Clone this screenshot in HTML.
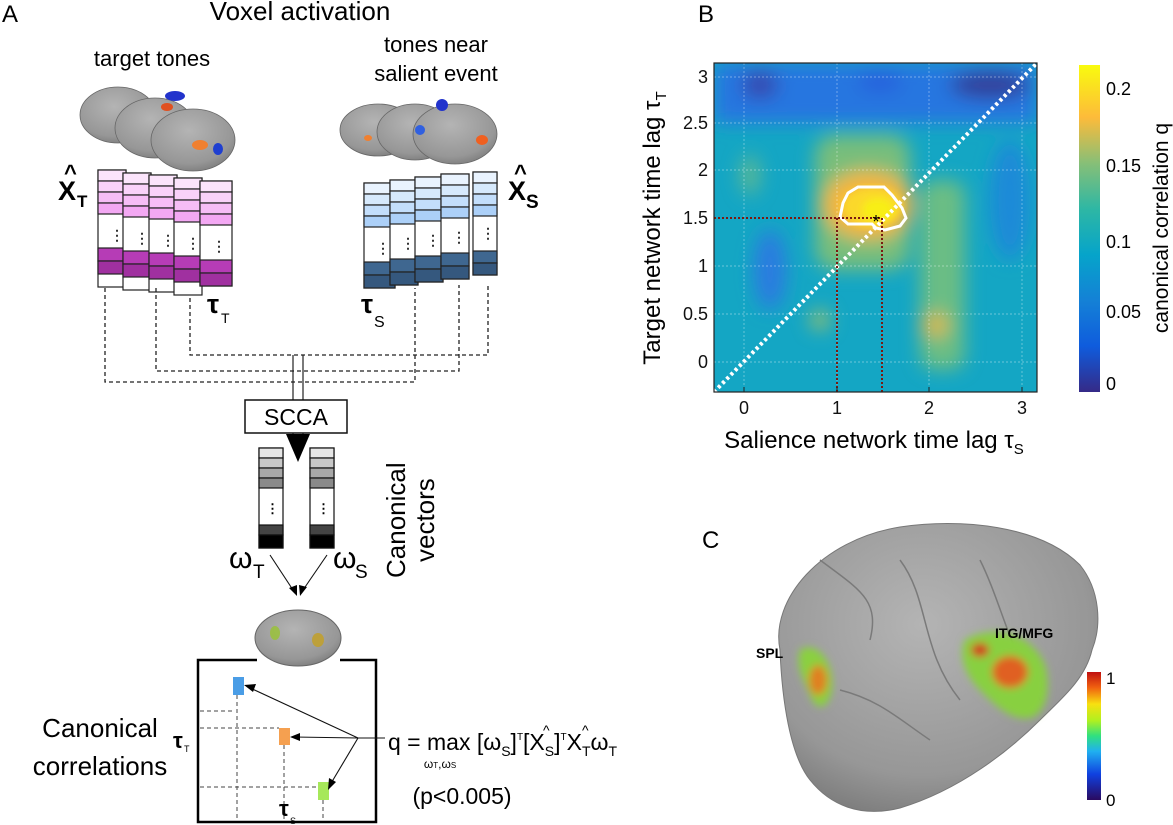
<!DOCTYPE html>
<html><head><meta charset="utf-8"><style>
html,body{margin:0;padding:0;background:#fff;}
svg{display:block;font-family:"Liberation Sans",sans-serif;}
</style></head><body>
<svg width="1173" height="825" viewBox="0 0 1173 825" xmlns="http://www.w3.org/2000/svg">
<defs>
<filter id="bl" x="-20%" y="-20%" width="140%" height="140%"><feGaussianBlur stdDeviation="9"/></filter>
<filter id="bl2"><feGaussianBlur stdDeviation="4"/></filter>
<linearGradient id="parula" x1="0" y1="1" x2="0" y2="0">
<stop offset="0" stop-color="#352a87"/><stop offset="0.14" stop-color="#0f5cdd"/><stop offset="0.28" stop-color="#1481d6"/><stop offset="0.42" stop-color="#06a4ca"/><stop offset="0.56" stop-color="#2eb7a4"/><stop offset="0.7" stop-color="#87bf77"/><stop offset="0.84" stop-color="#fdbb3a"/><stop offset="1" stop-color="#f9fb0e"/>
</linearGradient>
<linearGradient id="jet" x1="0" y1="1" x2="0" y2="0">
<stop offset="0" stop-color="#2a0a60"/><stop offset="0.2" stop-color="#1040e0"/><stop offset="0.38" stop-color="#20b0f0"/><stop offset="0.5" stop-color="#30e080"/><stop offset="0.62" stop-color="#b0f020"/><stop offset="0.75" stop-color="#f8e010"/><stop offset="0.88" stop-color="#f06010"/><stop offset="1" stop-color="#c01010"/>
</linearGradient>
<radialGradient id="brain" cx="0.45" cy="0.35" r="0.75"><stop offset="0" stop-color="#b4b4b4"/><stop offset="0.7" stop-color="#979797"/><stop offset="1" stop-color="#727272"/></radialGradient>
<clipPath id="hm"><rect x="714" y="63" width="323" height="329"/></clipPath>
</defs>

<text x="2" y="22" font-size="24">A</text>
<text x="698" y="22" font-size="24">B</text>
<text x="702" y="548" font-size="24">C</text>

<text x="300" y="20" font-size="26" text-anchor="middle">Voxel activation</text>
<text x="152" y="66" font-size="22" text-anchor="middle">target tones</text>
<text x="436" y="52" font-size="22" text-anchor="middle">tones near</text>
<text x="436" y="81" font-size="22" text-anchor="middle">salient event</text>

<g fill="url(#brain)" stroke="#666" stroke-width="0.8">
<ellipse cx="118" cy="115" rx="38" ry="28"/>
<ellipse cx="155" cy="128" rx="40" ry="30"/>
<ellipse cx="193" cy="140" rx="42" ry="31"/>
<ellipse cx="378" cy="130" rx="38" ry="26"/>
<ellipse cx="415" cy="132" rx="38" ry="28"/>
<ellipse cx="455" cy="134" rx="42" ry="30"/>
</g>
<g>
<ellipse cx="175" cy="96" rx="10" ry="5" fill="#2233cc"/>
<ellipse cx="167" cy="107" rx="6" ry="4" fill="#e05020"/>
<ellipse cx="200" cy="145" rx="8" ry="5" fill="#f08030"/>
<ellipse cx="218" cy="149" rx="5" ry="6" fill="#1f3fd0"/>
<ellipse cx="442" cy="105" rx="6" ry="6" fill="#2233cc"/>
<ellipse cx="420" cy="130" rx="5" ry="5" fill="#3060e0"/>
<ellipse cx="482" cy="140" rx="6" ry="5" fill="#f06020"/>
<ellipse cx="368" cy="138" rx="4" ry="3" fill="#f08030"/>
</g>

<g font-size="14" font-weight="bold" fill="#333">
<g stroke="#222" stroke-width="1.2">
<rect x="98" y="170" width="28" height="117" fill="#fff"/>
<rect x="98" y="170" width="28" height="11" fill="#fbe4fb"/><rect x="98" y="181" width="28" height="11" fill="#f9d2f9"/><rect x="98" y="192" width="28" height="11" fill="#f6bdf6"/><rect x="98" y="203" width="28" height="11" fill="#f3a8f3"/>
<rect x="98" y="248" width="28" height="13" fill="#b63cb6"/><rect x="98" y="261" width="28" height="13" fill="#a030a0"/>
<rect x="123" y="173" width="28" height="117" fill="#fff"/>
<rect x="123" y="173" width="28" height="11" fill="#fbe4fb"/><rect x="123" y="184" width="28" height="11" fill="#f9d2f9"/><rect x="123" y="195" width="28" height="11" fill="#f6bdf6"/><rect x="123" y="206" width="28" height="11" fill="#f3a8f3"/>
<rect x="123" y="251" width="28" height="13" fill="#b63cb6"/><rect x="123" y="264" width="28" height="13" fill="#a030a0"/>
<rect x="149" y="175" width="28" height="117" fill="#fff"/>
<rect x="149" y="175" width="28" height="11" fill="#fbe4fb"/><rect x="149" y="186" width="28" height="11" fill="#f9d2f9"/><rect x="149" y="197" width="28" height="11" fill="#f6bdf6"/><rect x="149" y="208" width="28" height="11" fill="#f3a8f3"/>
<rect x="149" y="253" width="28" height="13" fill="#b63cb6"/><rect x="149" y="266" width="28" height="13" fill="#a030a0"/>
<rect x="174" y="178" width="28" height="117" fill="#fff"/>
<rect x="174" y="178" width="28" height="11" fill="#fbe4fb"/><rect x="174" y="189" width="28" height="11" fill="#f9d2f9"/><rect x="174" y="200" width="28" height="11" fill="#f6bdf6"/><rect x="174" y="211" width="28" height="11" fill="#f3a8f3"/>
<rect x="174" y="256" width="28" height="13" fill="#b63cb6"/><rect x="174" y="269" width="28" height="13" fill="#a030a0"/>
<rect x="200" y="181" width="32" height="105" fill="#fff"/>
<rect x="200" y="181" width="32" height="11" fill="#fbe4fb"/><rect x="200" y="192" width="32" height="11" fill="#f9d2f9"/><rect x="200" y="203" width="32" height="11" fill="#f6bdf6"/><rect x="200" y="214" width="32" height="11" fill="#f3a8f3"/>
<rect x="200" y="260" width="32" height="13" fill="#b63cb6"/><rect x="200" y="273" width="32" height="13" fill="#a030a0"/>
<rect x="364" y="183" width="31" height="105" fill="#fff"/>
<rect x="364" y="183" width="31" height="11" fill="#e9f3fe"/><rect x="364" y="194" width="31" height="11" fill="#d6e9fc"/><rect x="364" y="205" width="31" height="11" fill="#c3defb"/><rect x="364" y="216" width="31" height="11" fill="#acd0f8"/>
<rect x="364" y="262" width="31" height="13" fill="#3f6790"/><rect x="364" y="275" width="31" height="13" fill="#35587e"/>
<rect x="390" y="180" width="28" height="105" fill="#fff"/>
<rect x="390" y="180" width="28" height="11" fill="#e9f3fe"/><rect x="390" y="191" width="28" height="11" fill="#d6e9fc"/><rect x="390" y="202" width="28" height="11" fill="#c3defb"/><rect x="390" y="213" width="28" height="11" fill="#acd0f8"/>
<rect x="390" y="259" width="28" height="13" fill="#3f6790"/><rect x="390" y="272" width="28" height="13" fill="#35587e"/>
<rect x="415" y="177" width="28" height="105" fill="#fff"/>
<rect x="415" y="177" width="28" height="11" fill="#e9f3fe"/><rect x="415" y="188" width="28" height="11" fill="#d6e9fc"/><rect x="415" y="199" width="28" height="11" fill="#c3defb"/><rect x="415" y="210" width="28" height="11" fill="#acd0f8"/>
<rect x="415" y="256" width="28" height="13" fill="#3f6790"/><rect x="415" y="269" width="28" height="13" fill="#35587e"/>
<rect x="441" y="174" width="28" height="105" fill="#fff"/>
<rect x="441" y="174" width="28" height="11" fill="#e9f3fe"/><rect x="441" y="185" width="28" height="11" fill="#d6e9fc"/><rect x="441" y="196" width="28" height="11" fill="#c3defb"/><rect x="441" y="207" width="28" height="11" fill="#acd0f8"/>
<rect x="441" y="253" width="28" height="13" fill="#3f6790"/><rect x="441" y="266" width="28" height="13" fill="#35587e"/>
<rect x="473" y="172" width="24" height="103" fill="#fff"/>
<rect x="473" y="172" width="24" height="11" fill="#e9f3fe"/><rect x="473" y="183" width="24" height="11" fill="#d6e9fc"/><rect x="473" y="194" width="24" height="11" fill="#c3defb"/><rect x="473" y="205" width="24" height="11" fill="#acd0f8"/>
<rect x="473" y="251" width="24" height="12" fill="#3f6790"/><rect x="473" y="263" width="24" height="12" fill="#35587e"/>
</g>
<text x="110" y="240">⋮</text><text x="135" y="243">⋮</text><text x="161" y="245">⋮</text><text x="186" y="248">⋮</text><text x="212" y="251">⋮</text>
<text x="376" y="253">⋮</text><text x="401" y="248">⋮</text><text x="426" y="245">⋮</text><text x="452" y="242">⋮</text><text x="481" y="238">⋮</text>
</g>

<text x="58" y="200" font-size="27" font-weight="bold">X</text><text x="64" y="180" font-size="22" font-weight="bold">^</text><text x="77" y="207" font-size="17" font-weight="bold">T</text>
<text x="508" y="200" font-size="27" font-weight="bold">X</text><text x="514" y="180" font-size="22" font-weight="bold">^</text><text x="526" y="208" font-size="19" font-weight="bold">S</text>
<text x="207" y="313" font-size="27" font-weight="bold">τ</text><text x="221" y="323" font-size="14">T</text>
<text x="361" y="313" font-size="27" font-weight="bold">τ</text><text x="374" y="327" font-size="16">S</text>

<g fill="none" stroke="#222" stroke-width="1.3" stroke-dasharray="4,3">
<path d="M105 288 V382 H415 V288"/>
<path d="M156 288 V371 H459 V285"/>
<path d="M190 298 V355 H488 V285"/>
</g>
<g stroke="#222" stroke-width="1.2">
<line x1="293" y1="355" x2="293" y2="400"/><line x1="303" y1="355" x2="303" y2="400"/>
<line x1="293" y1="433" x2="293" y2="445"/><line x1="303" y1="433" x2="303" y2="445"/>
</g>
<rect x="245" y="400" width="102" height="33" fill="#fff" stroke="#111" stroke-width="1.5"/>
<text x="296" y="425" font-size="23" text-anchor="middle">SCCA</text>
<polygon points="286,434 310,434 298,462" fill="#000"/>

<g stroke="#111" stroke-width="1.2">
<rect x="259" y="448" width="24" height="100" fill="#fff"/>
<rect x="259" y="448" width="24" height="10" fill="#e6e6e6"/><rect x="259" y="458" width="24" height="10" fill="#c8c8c8"/><rect x="259" y="468" width="24" height="10" fill="#a8a8a8"/><rect x="259" y="478" width="24" height="10" fill="#8a8a8a"/>
<rect x="259" y="525" width="24" height="10" fill="#444"/><rect x="259" y="535" width="24" height="13" fill="#000"/>
<rect x="310" y="448" width="24" height="100" fill="#fff"/>
<rect x="310" y="448" width="24" height="10" fill="#e6e6e6"/><rect x="310" y="458" width="24" height="10" fill="#c8c8c8"/><rect x="310" y="468" width="24" height="10" fill="#a8a8a8"/><rect x="310" y="478" width="24" height="10" fill="#8a8a8a"/>
<rect x="310" y="525" width="24" height="10" fill="#444"/><rect x="310" y="535" width="24" height="13" fill="#000"/>
</g>
<text x="266" y="513" font-size="13" font-weight="bold">⋮</text><text x="317" y="513" font-size="13" font-weight="bold">⋮</text>
<text x="229" y="568" font-size="30">ω</text><text x="253" y="578" font-size="19">T</text>
<text x="333" y="568" font-size="30">ω</text><text x="355" y="578" font-size="19">S</text>
<text transform="translate(405,578) rotate(-90)" font-size="26">Canonical</text>
<text transform="translate(434,562) rotate(-90)" font-size="26">vectors</text>
<g stroke="#111" stroke-width="1.1">
<line x1="270" y1="555" x2="293" y2="590"/><line x1="327" y1="555" x2="303" y2="590"/>
</g>
<polygon points="289,588 297,596 297,585" fill="#000"/><polygon points="299,585 300,596 307,587" fill="#000"/>

<ellipse cx="298" cy="638" rx="43" ry="28" fill="url(#brain)" stroke="#666"/>
<ellipse cx="275" cy="633" rx="5" ry="7" fill="#9ac040" opacity="0.9"/><ellipse cx="318" cy="640" rx="6" ry="7" fill="#c0a030" opacity="0.9"/>
<path d="M257 660 H198 V822 H376 V660 H340" fill="none" stroke="#000" stroke-width="2.5"/>
<g stroke="#444" stroke-width="1" stroke-dasharray="4,3" fill="none">
<path d="M200 711 H233 M237 695 V820"/><path d="M200 728 H279 M284 745 V820"/><path d="M200 787 H318 M323 800 V820"/>
</g>
<rect x="233" y="677" width="11" height="18" fill="#4a9de6"/>
<rect x="279" y="728" width="11" height="17" fill="#f5a050"/>
<rect x="318" y="782" width="11" height="18" fill="#a6e85a"/>
<g stroke="#111" stroke-width="1.1">
<line x1="358" y1="738" x2="248" y2="687"/><line x1="358" y1="738" x2="294" y2="737"/><line x1="358" y1="738" x2="330" y2="785"/><line x1="358" y1="738" x2="385" y2="738"/>
</g>
<polygon points="244,685 256,684 253,692" fill="#000"/>
<polygon points="290,737 300,733 300,741" fill="#000"/>
<polygon points="328,790 329,778 336,782" fill="#000"/>
<text x="100" y="737" font-size="26" text-anchor="middle">Canonical</text>
<text x="100" y="775" font-size="26" text-anchor="middle">correlations</text>
<text x="173" y="748" font-size="22" font-weight="bold">τ</text><text x="184" y="752" font-size="9">T</text>
<text x="279" y="816" font-size="22" font-weight="bold">τ</text><text x="290" y="824" font-size="9">S</text>
<text x="388" y="750" font-size="23">q = max [ω<tspan font-size="14" dy="6">S</tspan><tspan dy="-6">]</tspan><tspan font-size="10" dy="-10">T</tspan><tspan dy="10">[X</tspan><tspan font-size="14" dy="6">S</tspan><tspan dy="-6">]</tspan><tspan font-size="10" dy="-10">T</tspan><tspan dy="10">X</tspan><tspan font-size="14" dy="6">T</tspan><tspan dy="-6">ω</tspan><tspan font-size="14" dy="6">T</tspan></text>
<text x="543" y="735" font-size="14">^</text><text x="582" y="735" font-size="14">^</text>
<text x="440" y="768" font-size="12" text-anchor="middle">ω<tspan font-size="8">T</tspan>,ω<tspan font-size="8">S</tspan></text>
<text x="462" y="804" font-size="23" text-anchor="middle">(p&lt;0.005)</text>

<g clip-path="url(#hm)">
<rect x="714" y="63" width="323" height="329" fill="#14a6c4"/>
<g filter="url(#bl)">
<rect x="714" y="63" width="323" height="60" fill="#2676e0"/>
<ellipse cx="760" cy="85" rx="18" ry="14" fill="#3548b0"/>
<ellipse cx="990" cy="85" rx="40" ry="14" fill="#30409a"/>
<ellipse cx="880" cy="82" rx="22" ry="10" fill="#2560dd"/>
<ellipse cx="770" cy="270" rx="16" ry="40" fill="#2a7ce0"/>
<ellipse cx="1010" cy="200" rx="20" ry="60" fill="#1e8ad8"/>
<rect x="815" y="135" width="95" height="135" rx="20" fill="#78be7c"/>
<rect x="920" y="180" width="45" height="190" rx="15" fill="#6bbd84"/>
<ellipse cx="935" cy="325" rx="14" ry="12" fill="#d8b84a"/>
<ellipse cx="820" cy="320" rx="10" ry="10" fill="#9ac06a"/>
<ellipse cx="750" cy="175" rx="10" ry="20" fill="#5ab895"/>
<ellipse cx="868" cy="205" rx="45" ry="34" fill="#f6b63a"/>
</g>
<g filter="url(#bl2)">
<ellipse cx="872" cy="207" rx="30" ry="20" fill="#fbd82a"/>
<ellipse cx="878" cy="210" rx="16" ry="12" fill="#f8ee18"/>
</g>
<g stroke="#fff" stroke-opacity="0.5" stroke-width="0.7" stroke-dasharray="2,2">
<line x1="744" y1="63" x2="744" y2="392"/><line x1="837" y1="63" x2="837" y2="392"/><line x1="929" y1="63" x2="929" y2="392"/><line x1="1022" y1="63" x2="1022" y2="392"/>
<line x1="714" y1="77" x2="1037" y2="77"/><line x1="714" y1="123" x2="1037" y2="123"/><line x1="714" y1="170" x2="1037" y2="170"/><line x1="714" y1="266" x2="1037" y2="266"/><line x1="714" y1="314" x2="1037" y2="314"/><line x1="714" y1="362" x2="1037" y2="362"/>
</g>
<path d="M840 217 L843 203 L848 193 L858 187 L884 187 L892 195 L902 208 L906 218 L900 226 L885 230 L876 228 L872 224 L848 224 Z" fill="none" stroke="#fff" stroke-width="3"/>
<line x1="714" y1="392" x2="1037" y2="63" stroke="#fff" stroke-width="4" stroke-dasharray="3,3"/>
<g stroke="#7a1a10" stroke-width="2" stroke-dasharray="2,2">
<line x1="714" y1="218" x2="882" y2="218"/><line x1="837" y1="218" x2="837" y2="392"/><line x1="882" y1="218" x2="882" y2="392"/>
</g>
<text x="876" y="228" font-size="18" text-anchor="middle">*</text>
</g>
<rect x="714" y="63" width="323" height="329" fill="none" stroke="#222" stroke-width="1.2"/>
<g stroke="#222" stroke-width="1">
<line x1="744" y1="392" x2="744" y2="387"/><line x1="837" y1="392" x2="837" y2="387"/><line x1="929" y1="392" x2="929" y2="387"/><line x1="1022" y1="392" x2="1022" y2="387"/>
</g>
<g font-size="18" fill="#111">
<g text-anchor="middle"><text x="744" y="414">0</text><text x="837" y="414">1</text><text x="929" y="414">2</text><text x="1022" y="414">3</text></g>
<g text-anchor="end"><text x="708" y="83">3</text><text x="708" y="129">2.5</text><text x="708" y="176">2</text><text x="708" y="224">1.5</text><text x="708" y="272">1</text><text x="708" y="320">0.5</text><text x="708" y="368">0</text></g>
</g>
<text x="874" y="448" font-size="24" text-anchor="middle">Salience network time lag τ<tspan font-size="15" dy="6">S</tspan></text>
<text transform="translate(660,228) rotate(-90)" font-size="24" text-anchor="middle">Target network time lag τ<tspan font-size="15" dy="6">T</tspan></text>
<rect x="1079" y="65" width="21" height="327" fill="url(#parula)"/>
<g font-size="18"><text x="1106" y="95">0.2</text><text x="1106" y="172">0.15</text><text x="1106" y="248">0.1</text><text x="1106" y="318">0.05</text><text x="1106" y="390">0</text></g>
<text transform="translate(1168,228) rotate(-90)" font-size="21" text-anchor="middle">canonical correlation q</text>

<path d="M780 650 C770 600 820 540 900 527 C960 518 1040 525 1080 565 C1100 590 1102 625 1092 650 C1085 680 1060 700 1040 720 C1010 750 960 790 900 808 C860 818 830 805 810 780 C790 755 782 700 780 650 Z" fill="url(#brain)" stroke="#777"/>
<path d="M820 560 C860 590 880 600 870 640 M900 560 C930 600 920 650 960 700 M980 560 C1000 600 1010 650 1040 700 M840 690 C880 700 900 720 930 740" fill="none" stroke="#7a7a7a" stroke-width="1.5"/>
<g filter="url(#bl2)">
<path d="M800 650 C815 640 835 660 832 690 C828 710 818 710 812 700 C805 680 795 670 800 650 Z" fill="#8ad040"/>
<ellipse cx="818" cy="680" rx="9" ry="15" fill="#e08020"/>
<path d="M965 640 C990 625 1030 630 1045 665 C1052 690 1045 715 1030 718 C1010 722 990 700 980 690 C965 675 958 655 965 640 Z" fill="#88d040"/>
<ellipse cx="1010" cy="672" rx="18" ry="16" fill="#e06020"/>
<ellipse cx="980" cy="650" rx="9" ry="7" fill="#d04020"/>
</g>
<text x="756" y="658" font-size="14" font-weight="bold">SPL</text>
<text x="995" y="638" font-size="14" font-weight="bold">ITG/MFG</text>
<rect x="1087" y="672" width="14" height="128" fill="url(#jet)"/>
<text x="1106" y="684" font-size="17">1</text>
<text x="1106" y="806" font-size="17">0</text>
</svg>
</body></html>
